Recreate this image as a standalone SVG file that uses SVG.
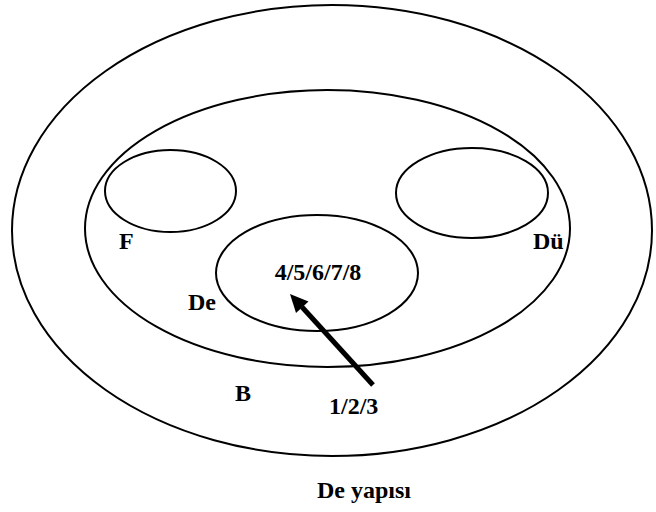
<svg xmlns="http://www.w3.org/2000/svg" width="656" height="512" viewBox="0 0 656 512">
<style>
.e{fill:none;stroke:#000;stroke-width:2}
.t{font-family:"Liberation Serif","Times New Roman",serif;font-weight:bold;font-size:24px;fill:#000}
</style>
<rect width="656" height="512" fill="#fff"/>
<g id="outer"><ellipse class="e" cx="332" cy="230.5" rx="320" ry="225.5"/></g>
<g id="inner"><ellipse class="e" cx="327.5" cy="228.5" rx="242.5" ry="138.5"/></g>
<g id="F"><ellipse class="e" cx="170.5" cy="191" rx="65.5" ry="41"/></g>
<g id="Du"><ellipse class="e" cx="472" cy="193" rx="76" ry="45"/></g>
<g id="De"><ellipse class="e" cx="317" cy="273" rx="101" ry="58"/></g>
<g id="connectors">
<line x1="373" y1="385" x2="302" y2="307" stroke="#000" stroke-width="5"/>
<polygon points="290,294 308.5,301.5 296,313" fill="#000"/>
</g>
<g id="labels">
<text class="t" x="318" y="280" text-anchor="middle">4/5/6/7/8</text>
<text class="t" x="119" y="249">F</text>
<text class="t" x="533" y="249">Dü</text>
<text class="t" x="188" y="310">De</text>
<text class="t" x="235" y="401">B</text>
<text class="t" x="329" y="414">1/2/3</text>
<text class="t" x="364" y="498" text-anchor="middle">De yapısı</text>
</g>
</svg>
